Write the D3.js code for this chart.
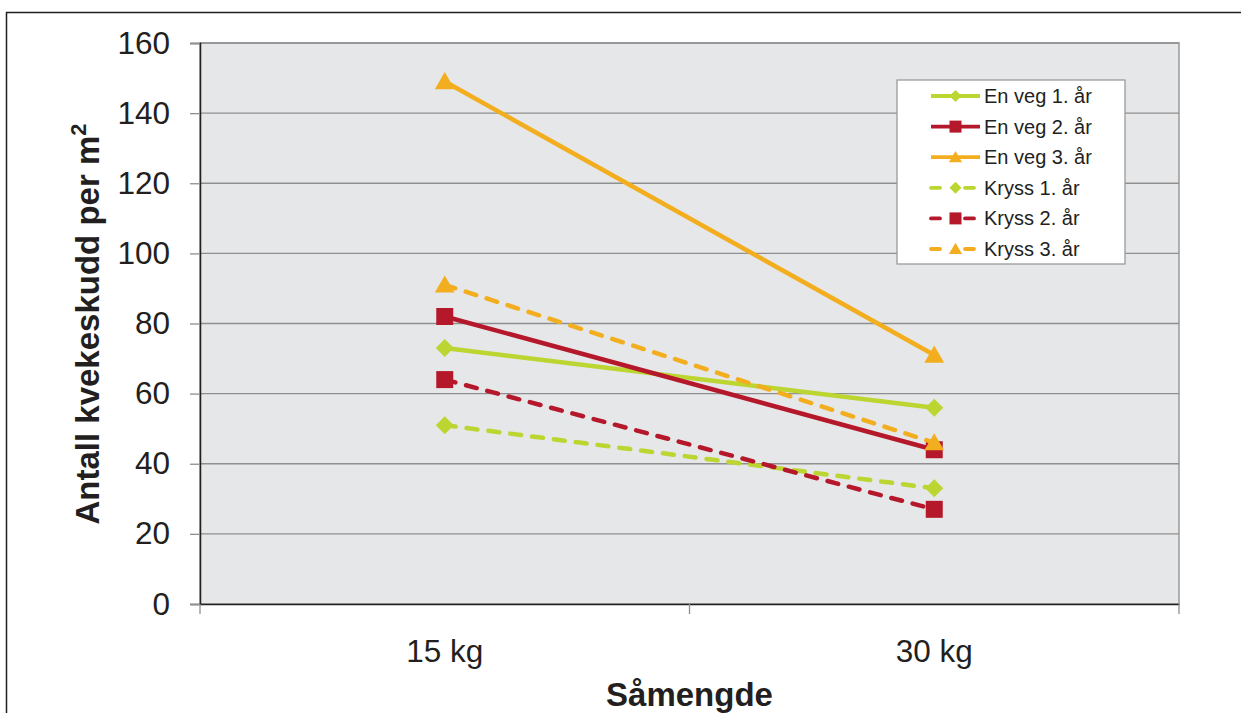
<!DOCTYPE html>
<html>
<head>
<meta charset="utf-8">
<script src="https://cdn.jsdelivr.net/npm/d3@7"></script>
<style>
  html, body { margin: 0; padding: 0; background: #fff; }
  svg { display: block; font-family: "Liberation Sans", Arial, sans-serif; }
</style>
</head>
<body>
<svg id="chart" width="1241" height="713"></svg>
<script>
// Seed rate categories
const categories = ["15 kg", "30 kg"];

// Shoot counts per m² for each series
const enVeg1 = [73, 56];
const enVeg2 = [82, 44];
const enVeg3 = [149, 71];
const kryss1 = [51, 33];
const kryss2 = [64, 27];
const kryss3 = [91, 46];

const seriesNames = ["En veg 1. år", "En veg 2. år", "En veg 3. år", "Kryss 1. år", "Kryss 2. år", "Kryss 3. år"];
const yTicks = [0, 20, 40, 60, 80, 100, 120, 140, 160];

const green = "#bcd531", red = "#b5182b", orange = "#f3ae1f";
const series = [
  { name: seriesNames[0], values: enVeg1, color: green,  dashed: false, marker: "diamond" },
  { name: seriesNames[1], values: enVeg2, color: red,    dashed: false, marker: "square" },
  { name: seriesNames[2], values: enVeg3, color: orange, dashed: false, marker: "triangle" },
  { name: seriesNames[3], values: kryss1, color: green,  dashed: true,  marker: "diamond" },
  { name: seriesNames[4], values: kryss2, color: red,    dashed: true,  marker: "square" },
  { name: seriesNames[5], values: kryss3, color: orange, dashed: true,  marker: "triangle" }
];

const svg = d3.select("#chart");
const plot = { left: 200, top: 43, right: 1179, bottom: 604 };
const ink = "#231f20";

// Outer frame
svg.append("path")
  .attr("d", "M6.5,713 V12.5 H1241")
  .attr("fill", "none").attr("stroke", ink).attr("stroke-width", 1.5);

const x = d3.scaleBand().domain(categories).range([plot.left, plot.right]);
const y = d3.scaleLinear().domain([0, 160]).range([plot.bottom, plot.top]);

// Plot background
svg.append("rect")
  .attr("x", plot.left).attr("y", plot.top)
  .attr("width", plot.right - plot.left).attr("height", plot.bottom - plot.top)
  .attr("fill", "#e6e7e8").attr("stroke", "#9a9a9a").attr("stroke-width", 1.5);

// Horizontal gridlines
svg.append("g").selectAll("line").data(yTicks.filter(d => d > 0)).join("line")
  .attr("x1", plot.left).attr("x2", plot.right)
  .attr("y1", d => y(d)).attr("y2", d => y(d))
  .attr("stroke", "#8f8f8f").attr("stroke-width", 1.3);

// Y axis
const yAxis = svg.append("g")
  .attr("transform", `translate(${plot.left},0)`)
  .call(d3.axisLeft(y).tickValues(yTicks).tickSize(10).tickPadding(20));
yAxis.select(".domain").attr("stroke", ink).attr("stroke-width", 1.5);
yAxis.selectAll(".tick line").attr("stroke", "#8f8f8f").attr("stroke-width", 1.3);
yAxis.selectAll(".tick text").attr("font-size", 31.5).attr("fill", ink)
  .attr("font-family", "'Liberation Sans', Arial, sans-serif");

// X axis
const xAxis = svg.append("g")
  .attr("transform", `translate(0,${plot.bottom})`)
  .call(d3.axisBottom(x).tickSize(0).tickPadding(36));
xAxis.select(".domain").attr("stroke", ink).attr("stroke-width", 1.5);
xAxis.selectAll(".tick text").attr("font-size", 31.5).attr("fill", ink)
  .attr("font-family", "'Liberation Sans', Arial, sans-serif");
// Band boundary ticks
const boundaries = [plot.left, ...categories.map(c => x(c) + x.bandwidth())];
svg.append("g").selectAll("line").data(boundaries).join("line")
  .attr("x1", d => d).attr("x2", d => d)
  .attr("y1", plot.bottom).attr("y2", plot.bottom + 10)
  .attr("stroke", "#8f8f8f").attr("stroke-width", 1.3);

// Axis titles
svg.append("text")
  .attr("transform", "translate(99,324) rotate(-90)")
  .attr("text-anchor", "middle").attr("font-size", 33).attr("font-weight", "bold").attr("fill", ink)
  .html('Antall kvekeskudd per m<tspan dy="-13" font-size="22">2</tspan>');
svg.append("text")
  .attr("x", (plot.left + plot.right) / 2).attr("y", 706)
  .attr("text-anchor", "middle").attr("font-size", 33).attr("font-weight", "bold").attr("fill", ink)
  .text("Såmengde");

// Marker shapes
function markerPath(type, s) {
  if (type === "diamond") return `M0,${-s} L${s},0 L0,${s} L${-s},0 Z`;
  if (type === "square") return `M${-s},${-s} H${s} V${s} H${-s} Z`;
  return `M0,${-s * 1.05} L${s * 1.1},${s * 0.85} L${-s * 1.1},${s * 0.85} Z`;
}
const markerSize = { diamond: 9, square: 8.5, triangle: 9 };

const cx = c => x(c) + x.bandwidth() / 2;
const line = d3.line().x(d => cx(d.cat)).y(d => y(d.v));

series.forEach(s => {
  const pts = categories.map((c, i) => ({ cat: c, v: s.values[i] }));
  const g = svg.append("g");
  g.append("path").datum(pts)
    .attr("d", line)
    .attr("fill", "none").attr("stroke", s.color).attr("stroke-width", 4.5)
    .attr("stroke-linecap", s.dashed ? "round" : "butt")
    .attr("stroke-dasharray", s.dashed ? "11,11" : null);
  g.selectAll("path.m").data(pts).join("path").attr("class", "m")
    .attr("transform", d => `translate(${cx(d.cat)},${y(d.v)})`)
    .attr("d", markerPath(s.marker, markerSize[s.marker]))
    .attr("fill", s.color);
});

// Legend
const legend = svg.append("g");
legend.append("rect")
  .attr("x", 897).attr("y", 80).attr("width", 228).attr("height", 184)
  .attr("fill", "#fff").attr("stroke", "#9a9a9a").attr("stroke-width", 1.3);
series.forEach((s, i) => {
  const ly = 96 + i * 30.6;
  legend.append("line")
    .attr("x1", 931).attr("x2", s.dashed ? 977 : 980).attr("y1", ly).attr("y2", ly)
    .attr("stroke", s.color).attr("stroke-width", 3.8)
    .attr("stroke-linecap", s.dashed ? "round" : "butt")
    .attr("stroke-dasharray", s.dashed ? "9,25" : null);
  legend.append("path")
    .attr("transform", `translate(955.5,${ly})`)
    .attr("d", markerPath(s.marker, 6))
    .attr("fill", s.color);
  legend.append("text")
    .attr("x", 984).attr("y", ly + 7)
    .attr("font-size", 20).attr("fill", ink)
    .text(s.name);
});
</script>
</body>
</html>
